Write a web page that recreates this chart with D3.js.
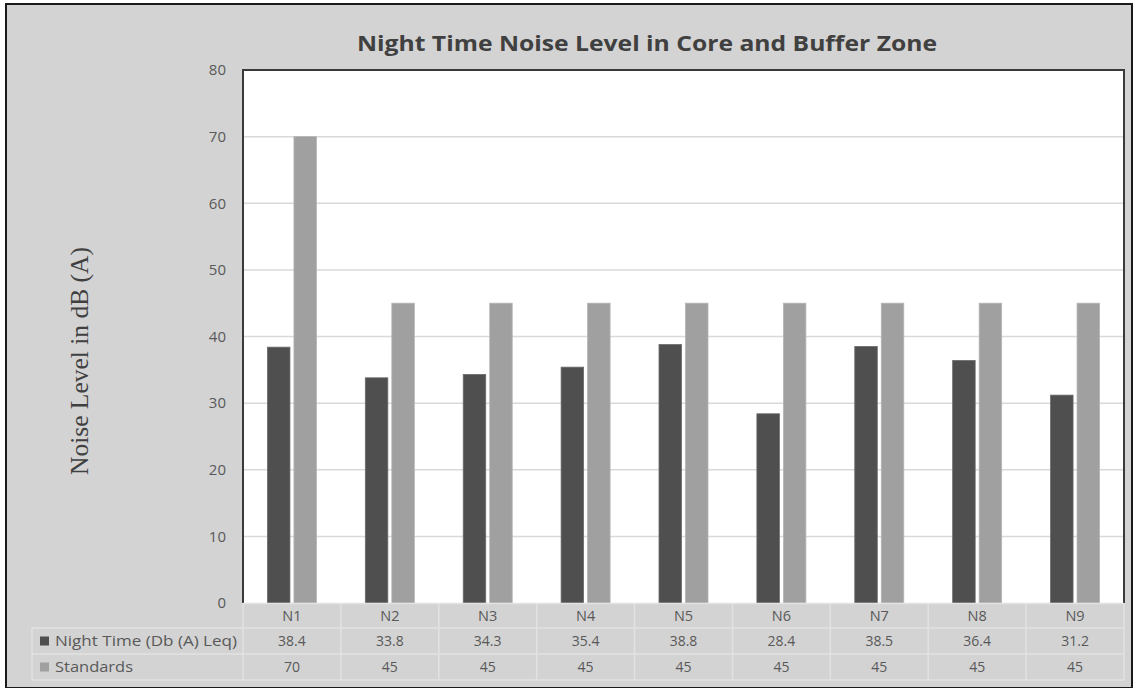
<!DOCTYPE html>
<html>
<head>
<meta charset="utf-8">
<script src="https://cdn.jsdelivr.net/npm/d3@7"></script>
<style>
  html, body { margin: 0; padding: 0; background: #ffffff; }
  svg { display: block; }
</style>
</head>
<body>
<svg id="chart" width="1138" height="688"></svg>
<script>
// Monitoring stations and measured values
const categories = ["N1", "N2", "N3", "N4", "N5", "N6", "N7", "N8", "N9"];
const nightValues = [38.4, 33.8, 34.3, 35.4, 38.8, 28.4, 38.5, 36.4, 31.2];
const standardValues = [70, 45, 45, 45, 45, 45, 45, 45, 45];
const seriesNames = ["Night Time (Db (A) Leq)", "Standards"];
const yTicks = [0, 10, 20, 30, 40, 50, 60, 70, 80];

const W = 1138, H = 688;
const plot = { left: 243, right: 1124, top: 70, bottom: 603 };
const rowH = [25, 26, 26];
const uiFont = "'Open Sans', Lato, sans-serif";
const textCol = "#595959";
const colors = ["#4f4f4f", "#a0a0a0"];
const labelWidths = [182, 78];

const svg = d3.select("#chart");

// Chart background and frame
svg.append("rect").attr("x", 0).attr("y", 0).attr("width", W).attr("height", H).attr("fill", "#ffffff");
svg.append("rect").attr("x", 6).attr("y", 4).attr("width", 1126).attr("height", 684)
  .attr("fill", "#d3d3d3").attr("stroke", "#1a1a1a").attr("stroke-width", 2);

// Plot area
svg.append("rect").attr("x", plot.left).attr("y", plot.top)
  .attr("width", plot.right - plot.left).attr("height", plot.bottom - plot.top)
  .attr("fill", "#ffffff");

const x = d3.scaleBand().domain(categories).range([plot.left, plot.right]);
const y = d3.scaleLinear().domain([0, 80]).range([plot.bottom, plot.top]);

// Gridlines
svg.append("g").selectAll("line").data(yTicks.filter(t => t > 0 && t < 80)).join("line")
  .attr("x1", plot.left).attr("x2", plot.right)
  .attr("y1", d => y(d)).attr("y2", d => y(d))
  .attr("stroke", "#d9d9d9").attr("stroke-width", 1.5);

// Y axis labels
const yAxis = d3.axisLeft(y).tickValues(yTicks).tickSize(0).tickPadding(17);
const gy = svg.append("g").attr("transform", `translate(${plot.left},0)`).call(yAxis);
gy.select(".domain").remove();
gy.selectAll("text").attr("fill", textCol).style("font-family", uiFont).style("font-size", "15px");

// Bars
const barW = 22.5, gap = 4;
const series = [nightValues, standardValues];
series.forEach((vals, si) => {
  svg.append("g").selectAll("rect").data(categories).join("rect")
    .attr("x", d => x(d) + x.bandwidth() / 2 + (si === 0 ? -gap / 2 - barW : gap / 2))
    .attr("y", (d, i) => y(vals[i]))
    .attr("width", barW)
    .attr("height", (d, i) => y(0) - y(vals[i]))
    .attr("fill", colors[si])
    .attr("stroke", si === 0 ? "#6a6a6a" : "#b4b4b4")
    .attr("stroke-width", 0.8);
});

// Plot frame (left, top, right)
svg.append("path")
  .attr("d", `M${plot.left},${plot.bottom} V${plot.top} H${plot.right} V${plot.bottom}`)
  .attr("fill", "none").attr("stroke", "#3a3a3a").attr("stroke-width", 2);

// Data table
const tableLeft = 32;
const rowTops = [plot.bottom, plot.bottom + rowH[0], plot.bottom + rowH[0] + rowH[1]];
const tableBottom = rowTops[2] + rowH[2];
const gridCol = "#e2e2e2";
const tg = svg.append("g");

// Horizontal rules
tg.append("line").attr("x1", plot.left).attr("x2", plot.right).attr("y1", rowTops[0] + 0.5).attr("y2", rowTops[0] + 0.5).attr("stroke", gridCol).attr("stroke-width", 1.5);
[rowTops[1], rowTops[2], tableBottom].forEach(yy => {
  tg.append("line").attr("x1", tableLeft).attr("x2", plot.right).attr("y1", yy).attr("y2", yy)
    .attr("stroke", gridCol).attr("stroke-width", 1.5);
});
// Vertical rules
tg.append("line").attr("x1", tableLeft).attr("x2", tableLeft).attr("y1", rowTops[1]).attr("y2", tableBottom).attr("stroke", gridCol).attr("stroke-width", 1.5);
categories.forEach(c => {
  tg.append("line").attr("x1", x(c)).attr("x2", x(c)).attr("y1", rowTops[0]).attr("y2", tableBottom).attr("stroke", gridCol).attr("stroke-width", 1.5);
});
tg.append("line").attr("x1", plot.right).attr("x2", plot.right).attr("y1", rowTops[0]).attr("y2", tableBottom).attr("stroke", gridCol).attr("stroke-width", 1.5);

// Category header
tg.selectAll("text.cat").data(categories).join("text").attr("class", "cat")
  .attr("x", d => x(d) + x.bandwidth() / 2).attr("y", rowTops[0] + rowH[0] / 2 + 5)
  .attr("text-anchor", "middle").attr("fill", textCol)
  .style("font-family", uiFont).style("font-size", "14.5px").text(d => d);

// Value rows with legend keys
series.forEach((vals, si) => {
  const cy = rowTops[si + 1] + rowH[si + 1] / 2;
  tg.append("rect").attr("x", 40).attr("y", cy - 4.5).attr("width", 9).attr("height", 9).attr("fill", colors[si]);
  tg.append("text").attr("x", 55).attr("y", cy + 5).attr("fill", textCol)
    .attr("textLength", labelWidths[si]).attr("lengthAdjust", "spacingAndGlyphs")
    .style("font-family", uiFont).style("font-size", "14.5px").text(seriesNames[si]);
  tg.selectAll(null).data(categories).join("text")
    .attr("x", d => x(d) + x.bandwidth() / 2).attr("y", cy + 5)
    .attr("text-anchor", "middle").attr("fill", textCol)
    .style("font-family", uiFont).style("font-size", "14px")
    .text((d, i) => vals[i]);
});

// Title
svg.append("text").attr("x", 647).attr("y", 51).attr("text-anchor", "middle")
  .attr("textLength", 580).attr("lengthAdjust", "spacingAndGlyphs")
  .attr("fill", "#404040").style("font-family", uiFont).style("font-weight", "bold")
  .style("font-size", "21.5px").text("Night Time Noise Level in Core and Buffer Zone");

// Y axis title
svg.append("text").attr("transform", "translate(88,361) rotate(-90)")
  .attr("text-anchor", "middle").attr("fill", "#404040")
  .style("font-family", "'Liberation Serif', 'Times New Roman', serif")
  .style("font-size", "25.5px").text("Noise Level in dB (A)");
</script>
</body>
</html>
